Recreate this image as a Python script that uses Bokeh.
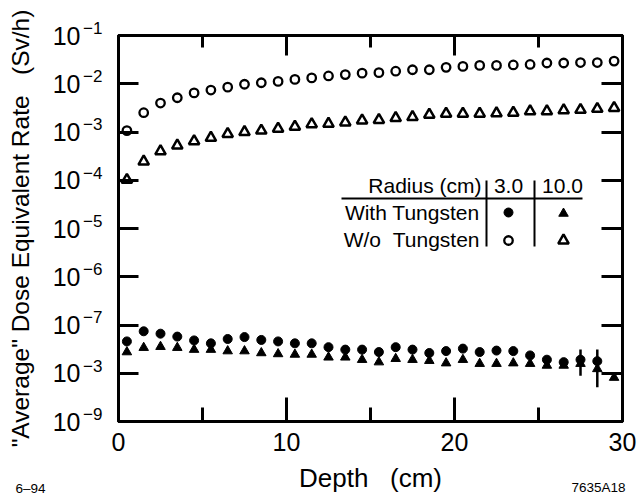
from bokeh.plotting import figure
from bokeh.models import (Range1d, LogAxis, LinearAxis, FixedTicker,
                          CustomJSTickFormatter, Label, Grid)
from bokeh.embed import file_html
from bokeh.resources import INLINE

# ---------------- data ----------------
depth = [0.5, 1.5, 2.5, 3.5, 4.5, 5.5, 6.5, 7.5, 8.5, 9.5,
         10.5, 11.5, 12.5, 13.5, 14.5, 15.5, 16.5, 17.5, 18.5, 19.5,
         20.5, 21.5, 22.5, 23.5, 24.5, 25.5, 26.5, 27.5, 28.5, 29.5]

# W/o Tungsten, radius 3.0 cm (open circles)
wo_tungsten_r3 = [1.07e-3, 2.51e-3, 3.98e-3, 5.13e-3, 6.46e-3, 7.41e-3, 8.51e-3, 9.77e-3, 1.05e-2, 1.12e-2,
                  1.23e-2, 1.32e-2, 1.45e-2, 1.55e-2, 1.66e-2, 1.70e-2, 1.82e-2, 1.95e-2, 1.95e-2, 2.19e-2,
                  2.29e-2, 2.40e-2, 2.40e-2, 2.45e-2, 2.51e-2, 2.69e-2, 2.69e-2, 2.75e-2, 2.75e-2, 2.95e-2]

# W/o Tungsten, radius 10.0 cm (open triangles)
wo_tungsten_r10 = [1.02e-4, 2.45e-4, 3.98e-4, 5.25e-4, 6.46e-4, 7.59e-4, 9.12e-4, 1.00e-3, 1.07e-3, 1.17e-3,
                   1.29e-3, 1.45e-3, 1.48e-3, 1.58e-3, 1.74e-3, 1.78e-3, 1.95e-3, 2.04e-3, 2.29e-3, 2.40e-3,
                   2.40e-3, 2.40e-3, 2.45e-3, 2.51e-3, 2.69e-3, 2.69e-3, 2.82e-3, 2.88e-3, 3.02e-3, 3.16e-3]

# With Tungsten, radius 3.0 cm (filled circles) -- no point at 29.5 cm
depth_w_r3 = depth[:29]
with_tungsten_r3 = [4.57e-8, 7.41e-8, 6.61e-8, 5.75e-8, 4.79e-8, 4.17e-8, 5.13e-8, 5.62e-8, 4.90e-8, 4.57e-8,
                    4.17e-8, 4.17e-8, 3.47e-8, 3.09e-8, 3.09e-8, 2.75e-8, 3.47e-8, 3.09e-8, 2.63e-8, 2.88e-8,
                    3.24e-8, 2.75e-8, 2.95e-8, 2.88e-8, 2.34e-8, 1.91e-8, 1.70e-8, 1.91e-8, 1.78e-8]

# With Tungsten, radius 10.0 cm (filled triangles)
with_tungsten_r10 = [2.75e-8, 3.39e-8, 3.55e-8, 3.39e-8, 3.09e-8, 3.09e-8, 2.88e-8, 2.88e-8, 2.63e-8, 2.51e-8,
                     2.45e-8, 2.45e-8, 2.14e-8, 2.14e-8, 1.91e-8, 1.70e-8, 2.00e-8, 1.91e-8, 1.82e-8, 1.62e-8,
                     1.91e-8, 1.58e-8, 1.58e-8, 1.62e-8, 1.58e-8, 1.45e-8, 1.45e-8, 1.58e-8, 1.23e-8, 8.13e-9]

# error bars
err_x = [27.5, 28.5]
err_hi = [3.09e-8, 3.09e-8]
err_lo = [8.91e-9, 5.13e-9]

x_major_ticks = [0, 10, 20, 30]
x_minor_ticks = [5, 15, 25]
y_ticks = [1e-1, 1e-2, 1e-3, 1e-4, 1e-5, 1e-6, 1e-7, 1e-8, 1e-9]
# exponents as printed on the original (the 1e-8 tick reads "10^-3" there)
y_tick_exponents = ["\u22121", "\u22122", "\u22123", "\u22124", "\u22125",
                    "\u22126", "\u22127", "\u22123", "\u22129"]

# ---------------- layout ----------------
W, H = 638, 501
FL, FR, FT, FB = 118, 622, 35, 421
X_START, X_END = 0, 30
LOG_TOP, LOG_BOT = -1, -9
FONT = "Liberation Sans"


def sx(px):
    return X_START + (px - FL) * (X_END - X_START) / (FR - FL)


def sy(py):
    return 10 ** (LOG_TOP - (py - FT) * (LOG_TOP - LOG_BOT) / (FB - FT))


p = figure(width=W, height=H, output_backend="svg", toolbar_location=None,
           x_range=Range1d(X_START, X_END), y_range=Range1d(10 ** LOG_BOT, 10 ** LOG_TOP),
           y_axis_type="log", x_axis_location=None, y_axis_location=None,
           min_border_left=FL, min_border_right=W - FR,
           min_border_top=FT, min_border_bottom=H - FB)
p.outline_line_color = "black"
p.outline_line_width = 3
p.background_fill_color = "white"
p.border_fill_color = "white"
for g in p.select(type=Grid):
    g.visible = False

xt = FixedTicker(ticks=x_major_ticks, minor_ticks=x_minor_ticks)
yt = FixedTicker(ticks=y_ticks)
blank = CustomJSTickFormatter(code="return ''")


def style(ax, major_in, minor_in=0):
    ax.axis_line_width = 3
    ax.axis_line_color = "black"
    ax.major_tick_in = major_in
    ax.major_tick_out = 0
    ax.minor_tick_in = minor_in
    ax.minor_tick_out = 0
    ax.major_tick_line_width = 3
    ax.minor_tick_line_width = 3
    ax.major_tick_line_color = "black"
    ax.minor_tick_line_color = "black"
    ax.major_label_text_font = FONT
    ax.major_label_text_color = "black"
    ax.axis_label_text_font = FONT
    ax.axis_label_text_font_style = "normal"
    ax.axis_label_text_color = "black"


xb = LinearAxis(ticker=xt, axis_label="Depth\u00a0\u00a0\u00a0(cm)")
style(xb, 24, 14)
xb.major_label_text_font_size = "25px"
xb.major_label_standoff = 11
xb.axis_label_text_font_size = "26px"
xb.axis_label_standoff = 9
p.add_layout(xb, "below")

xtop = LinearAxis(ticker=xt, formatter=blank)
style(xtop, 20, 12)
xtop.major_label_text_font_size = "0px"
xtop.major_label_standoff = 0
p.add_layout(xtop, "above")

# inner left axis: line, ticks and the (raised) exponents of the tick labels
exp_fmt = CustomJSTickFormatter(
    args=dict(tvals=y_ticks, exps=y_tick_exponents),
    code="""
    let best = 0, bd = Infinity;
    for (let i = 0; i < tvals.length; i++) {
        const d = Math.abs(Math.log10(tvals[i]) - Math.log10(tick));
        if (d < bd) { bd = d; best = i; }
    }
    return exps[best] + "\\n\\u00a0";
    """)
yl_exp = LogAxis(ticker=yt, formatter=exp_fmt)
style(yl_exp, 20)
yl_exp.major_label_text_font_size = "17px"
yl_exp.major_label_text_line_height = 0.75
yl_exp.major_label_standoff = 16
p.add_layout(yl_exp, "left")

# outer left axis: the "10" bases and the axis title
yl = LogAxis(ticker=yt, formatter=CustomJSTickFormatter(code="return '10'"),
             axis_label="\"Average\" Dose Equivalent Rate\u00a0\u00a0\u00a0(Sv/h)")
style(yl, 0)
yl.axis_line_color = None
yl.major_tick_line_color = None
yl.major_label_text_font_size = "25px"
yl.major_label_standoff = 0
yl.axis_label_text_font_size = "24.5px"
yl.axis_label_standoff = 16
p.add_layout(yl, "left")

yr = LogAxis(ticker=yt, formatter=blank)
style(yr, 21)
yr.major_label_text_font_size = "0px"
yr.major_label_standoff = 0
p.add_layout(yr, "right")

# ---------------- series ----------------
p.segment(err_x, err_hi, err_x, err_lo, line_color="black", line_width=2.5)
p.scatter(depth, wo_tungsten_r3, marker="circle", size=8.5, fill_color="white",
          line_color="black", line_width=2.3)
p.scatter(depth, wo_tungsten_r10, marker="triangle", size=10.5, fill_color="white",
          line_color="black", line_width=2.5)
p.scatter(depth, with_tungsten_r10, marker="triangle", size=9.5, fill_color="black",
          line_color="black", line_width=1)
p.scatter(depth_w_r3, with_tungsten_r3, marker="circle", size=9, fill_color="black",
          line_color="black", line_width=1)

# ---------------- table-style legend ----------------
def lbl(px, py, text, align, size="21px"):
    p.add_layout(Label(x=sx(px), y=sy(py), text=text, text_align=align,
                       text_baseline="middle", text_font=FONT,
                       text_font_size=size, text_color="black"))


lbl(481, 185, "Radius (cm)", "right")
lbl(508, 185, "3.0", "center")
lbl(562, 185, "10.0", "center")
lbl(479, 212, "With Tungsten", "right")
lbl(479, 239, "W/o\u00a0\u00a0Tungsten", "right")

p.segment([sx(341)], [sy(198)], [sx(582)], [sy(198)], line_color="black", line_width=2)
p.segment([sx(486), sx(534)], [sy(180), sy(180)], [sx(486), sx(534)], [sy(246), sy(246)],
          line_color="black", line_width=2)
p.scatter([sx(508)], [sy(212)], marker="circle", size=9, fill_color="black", line_color="black")
p.scatter([sx(508)], [sy(240)], marker="circle", size=8.5, fill_color="white",
          line_color="black", line_width=2.3)
p.scatter([sx(563)], [sy(213)], marker="triangle", size=9.5, fill_color="black", line_color="black")
p.scatter([sx(563)], [sy(240)], marker="triangle", size=10.5, fill_color="white",
          line_color="black", line_width=2.5)


# corner annotations: hosted in the (spare) top side panel so that they are not
# clipped to the frame, but positioned in data space at the bottom corners
def corner(px, py, text, align):
    lab = Label(x=sx(px), y=sy(py), text=text)
    lab.text_align = align
    lab.text_baseline = "middle"
    lab.text_font = FONT
    lab.text_font_size = "13.5px"
    lab.text_color = "black"
    p.add_layout(lab, "above")


corner(15, 488, "6\u201394", "left")
corner(625, 487, "7635A18", "right")

open("out.html", "w").write(file_html(p, INLINE))
